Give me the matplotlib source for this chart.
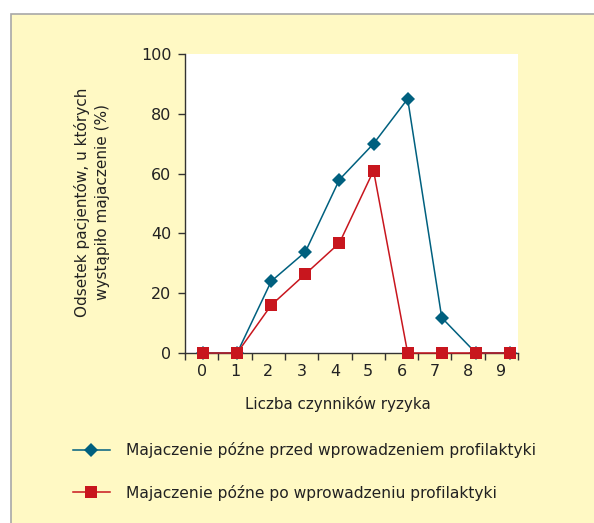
import numpy as np
import matplotlib
matplotlib.use("Agg")
import matplotlib.pyplot as plt
from matplotlib.patches import Rectangle

# dane
czynniki = [0, 1, 2, 3, 4, 5, 6, 7, 8, 9]
przed = [0, 0, 24, 33.8, 58, 70, 85, 11.8, 0, 0]
po = [0, 0, 16, 26.4, 36.8, 61, 0, 0, 0, 0]
etykiety_x = ['0', '1', '2', '3', '4', '5', '6', '7', '8', '9']
y_ticki = [0, 20, 40, 60, 80, 100]

lbl_przed = 'Majaczenie późne przed wprowadzeniem profilaktyki'
lbl_po = 'Majaczenie późne po wprowadzeniu profilaktyki'

W, H = 594, 523
zolty = '#fff9c4'
niebieski = '#00607f'
czerwony = '#c8161e'
tekst = '#222222'
font = 'DejaVu Sans'

fig = plt.figure(figsize=(W / 100, H / 100), dpi=100, facecolor='white')
# żółte tło z szarą ramką
fig.patches.append(Rectangle((10.5 / W, -0.05), 1.2, (H - 14.5) / H + 0.05,
                             transform=fig.transFigure, facecolor=zolty,
                             edgecolor='#a8a8a8', linewidth=1.2, zorder=-5))

ax = fig.add_axes([185 / W, (H - 353) / H, (518 - 185) / W, (353 - 54) / H])
ax.set_facecolor('white')

l1, = ax.plot(czynniki, przed, color=niebieski, lw=1.1, marker='D', ms=7.2,
              mec=niebieski, mew=0, label=lbl_przed, zorder=3, clip_on=False)
l2, = ax.plot(czynniki, po, color=czerwony, lw=1.1, marker='s', ms=8,
              mec=czerwony, mew=0, label=lbl_po, zorder=4, clip_on=False)

x0, x1 = -0.528, 9.235
ax.set_xlim(x0, x1)
ax.set_ylim(0, 100)

krok = (x1 - x0) / 10
ax.set_xticks(x0 + krok * np.arange(11))
ax.set_xticklabels([])
ax.set_xticks(x0 + krok * (np.arange(10) + 0.5), minor=True)
ax.set_xticklabels(etykiety_x, minor=True, fontfamily=font, fontsize=11.5, color=tekst)
ax.tick_params(axis='x', which='major', direction='out', length=5, width=1, color='#333333')
ax.tick_params(axis='x', which='minor', length=0, pad=8)

ax.set_yticks(y_ticki)
ax.set_yticklabels([str(v) for v in y_ticki], fontfamily=font, fontsize=11.5, color=tekst)
ax.tick_params(axis='y', direction='out', length=5.2, width=1, color='#333333', pad=4.5)

for s in ['top', 'right']:
    ax.spines[s].set_visible(False)
for s in ['left', 'bottom']:
    ax.spines[s].set_color('#333333')
    ax.spines[s].set_linewidth(1)

ax.set_xlabel('Liczba czynników ryzyka', fontfamily=font, fontsize=10.9, color=tekst, va='top')
ax.xaxis.set_label_coords(0.459, -0.143)
ax.set_ylabel('Odsetek pacjentów, u których\nwystąpiło majaczenie (%)', fontfamily=font,
              fontsize=11, color=tekst, va='center', ha='center', linespacing=1.38)
ax.yaxis.set_label_coords(-0.28, 0.505)

fig.legend(handles=[l1, l2], loc='upper left', bbox_to_anchor=(72.7 / W, (H - 442) / H),
           frameon=False, handlelength=2.4, handletextpad=1.05, labelspacing=1.72,
           borderpad=0, borderaxespad=0,
           prop={'family': font, 'size': 11.15}, labelcolor=tekst)

fig.savefig('out.png', dpi=100, facecolor=fig.get_facecolor())
